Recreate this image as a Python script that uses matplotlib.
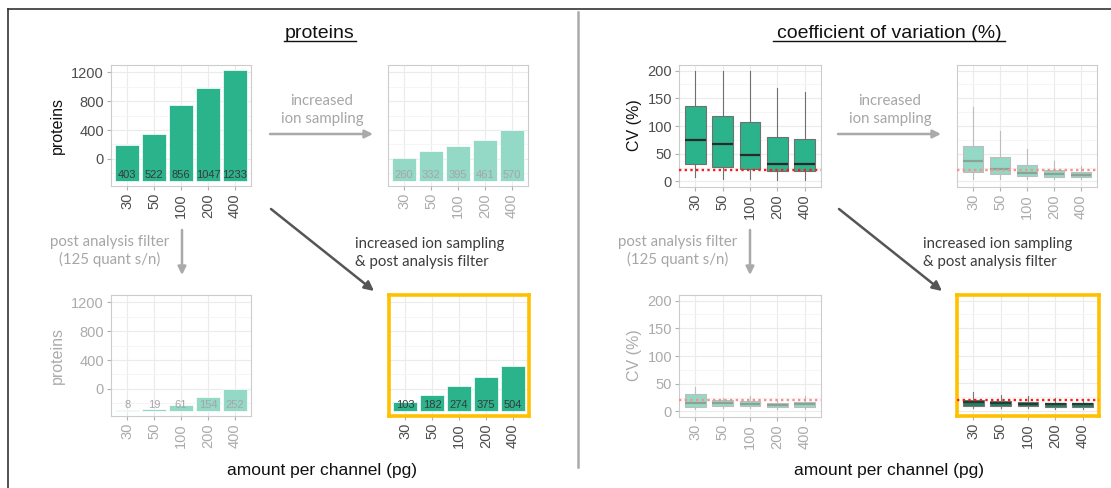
import matplotlib
matplotlib.use("Agg")
import matplotlib.pyplot as plt
from matplotlib.ticker import MultipleLocator

W, H = 1111, 488

# ---- data ----
cats = ["30", "50", "100", "200", "400"]

# protein counts (printed in the bars) and where each bar top sits on the axis
prot_all = [403, 522, 856, 1047, 1233]
prot_all_top = [195, 340, 750, 985, 1225]
prot_ion = [260, 332, 395, 461, 570]
prot_ion_top = [15, 105, 185, 265, 400]
prot_filt = [8, 19, 61, 154, 252]
prot_filt_top = [-295, -281, -229, -114, 5]
prot_both = [103, 182, 274, 375, 504]
prot_both_top = [-177, -79, 35, 160, 320]
bar_base = -305

# CV boxplots: whisker low, q1, median, q3, whisker high
cv_all_lo = [8, 5, 5, 3, 3]
cv_all_q1 = [31, 26, 22, 18, 18]
cv_all_med = [74, 67, 47, 32, 31]
cv_all_q3 = [136, 118, 107, 80, 76]
cv_all_hi = [200, 200, 200, 168, 162]

cv_ion_lo = [5, 4, 4, 4, 4]
cv_ion_q1 = [17, 13, 10, 8, 8]
cv_ion_med = [36, 22, 16, 13, 11]
cv_ion_q3 = [64, 44, 29, 20, 17]
cv_ion_hi = [134, 91, 58, 37, 28]

cv_filt_lo = [4, 7, 6, 5, 5]
cv_filt_q1 = [8, 10, 10, 8, 8]
cv_filt_med = [15, 15, 14, 12, 13]
cv_filt_q3 = [31, 20, 19, 16, 17]
cv_filt_hi = [45, 24, 27, 23, 28]

cv_both_lo = [5, 5, 4, 3, 3]
cv_both_q1 = [9, 8, 8, 7, 7]
cv_both_med = [15, 14, 12, 11, 11]
cv_both_q3 = [20, 17, 16, 14, 14]
cv_both_hi = [34, 29, 26, 22, 21]

cv_cutoff = 20

GREEN = "#2bb38b"
LIGHT = "#93d9c5"
DARKBOX = "#2a7d62"
ORANGE = "#ffc000"
DARKTXT = "#4d4d4d"
GREYTXT = "#ababab"

fig = plt.figure(figsize=(W / 100, H / 100), dpi=100)

ov = fig.add_axes([0, 0, 1, 1])
ov.set_xlim(0, W)
ov.set_ylim(H, 0)
ov.axis("off")


def px_axes(l, t, r, b):
    return fig.add_axes([l / W, 1 - b / H, (r - l) / W, (b - t) / H])


def style(ax, xcol, ycol, showy, highlight=False):
    ax.set_xlim(-0.6, 4.6)
    ax.set_xticks(range(5))
    ax.set_xticklabels(cats, rotation=90, color=xcol, fontsize=10.5,
                       family="Liberation Sans")
    ax.tick_params(axis="both", length=3, color="#b0b0b0", pad=2)
    ax.grid(True, which="major", color="#ebebeb", lw=0.8)
    ax.grid(True, which="minor", axis="y", color="#f4f4f4", lw=0.6)
    ax.tick_params(axis="y", which="minor", length=0)
    ax.set_axisbelow(True)
    if showy:
        for lab in ax.get_yticklabels():
            lab.set_color(ycol)
            lab.set_fontsize(10.5)
            lab.set_family("Liberation Sans")
    else:
        ax.tick_params(axis="y", which="both", length=0, labelleft=False)
    for s in ax.spines.values():
        if highlight:
            s.set_color(ORANGE)
            s.set_linewidth(2.6)
        else:
            s.set_color("#cccccc")
            s.set_linewidth(0.8)


def bar_panel(box, tops, counts, color, txtcol, xcol, ycol, showy, highlight=False):
    ax = px_axes(*box)
    heights = [t - bar_base for t in tops]
    ax.bar(range(5), heights, bottom=bar_base, width=0.9, color=color,
           edgecolor="white", linewidth=0.5, zorder=2)
    for i, c in enumerate(counts):
        ax.text(i, -222, str(c), ha="center", va="center", fontsize=8,
                color=txtcol, family="Liberation Sans", zorder=3)
    ax.set_ylim(-375, 1300)
    ax.yaxis.set_major_locator(MultipleLocator(400))
    ax.yaxis.set_minor_locator(MultipleLocator(200))
    style(ax, xcol, ycol, showy, highlight)
    return ax


def box_panel(box, lo, q1, med, q3, hi, face, edge, medcol, linecol, xcol, ycol,
              showy, highlight=False):
    ax = px_axes(*box)
    stats = [dict(whislo=lo[i], q1=q1[i], med=med[i], q3=q3[i], whishi=hi[i],
                  fliers=[]) for i in range(5)]
    ax.bxp(stats, positions=range(5), widths=0.75, patch_artist=True,
           showcaps=False, showfliers=False,
           boxprops=dict(facecolor=face, edgecolor=edge, lw=0.8),
           medianprops=dict(color=medcol, lw=1.6),
           whiskerprops=dict(color=edge, lw=0.8), zorder=2)
    ax.axhline(cv_cutoff, color=linecol, ls=(0, (1.0, 1.4)), lw=1.7, zorder=3)
    ax.set_ylim(-10, 210)
    ax.yaxis.set_major_locator(MultipleLocator(50))
    ax.yaxis.set_minor_locator(MultipleLocator(25))
    style(ax, xcol, ycol, showy, highlight)
    return ax


# proteins
bar_panel((111, 65, 251, 186), prot_all_top, prot_all, GREEN, "#3a3a3a",
          DARKTXT, DARKTXT, True)
bar_panel((388, 65, 528, 186), prot_ion_top, prot_ion, LIGHT, "#a8a3ad",
          GREYTXT, GREYTXT, False)
bar_panel((111, 295, 251, 416), prot_filt_top, prot_filt, LIGHT, "#a8a3ad",
          GREYTXT, GREYTXT, True)
bar_panel((389, 295, 529, 416), prot_both_top, prot_both, GREEN, "#3a3a3a",
          DARKTXT, DARKTXT, False, highlight=True)

# coefficient of variation
box_panel((679, 65, 821, 187), cv_all_lo, cv_all_q1, cv_all_med, cv_all_q3,
          cv_all_hi, GREEN, "#707070", "#2a2a2a", "#ff1a1a", DARKTXT, DARKTXT, True)
box_panel((957, 65, 1097, 187), cv_ion_lo, cv_ion_q1, cv_ion_med, cv_ion_q3,
          cv_ion_hi, LIGHT, "#bdbdbd", "#8aa397", "#ff8c8c", GREYTXT, GREYTXT, False)
box_panel((679, 295, 821, 417), cv_filt_lo, cv_filt_q1, cv_filt_med, cv_filt_q3,
          cv_filt_hi, LIGHT, "#bdbdbd", "#8aa397", "#ff8c8c", GREYTXT, GREYTXT, True)
box_panel((957, 295, 1099, 416), cv_both_lo, cv_both_q1, cv_both_med, cv_both_q3,
          cv_both_hi, DARKBOX, "#777777", "#1e3f33", "#ff1a1a", DARKTXT, DARKTXT,
          False, highlight=True)

# frame and divider
ov.plot([8, W], [9, 9], color="#333333", lw=1.2)
ov.plot([8, 8], [9, H], color="#333333", lw=1.2)
ov.plot([578, 578], [12, 467], color="#aaaaaa", lw=1.8)

# titles, underlined
for cx, half, txt in [(320, 36, "proteins"), (889, 116, "coefficient of variation (%)")]:
    ov.text(cx, 38, txt, ha="center", va="baseline", fontsize=14,
            family="Liberation Sans", color="#111111")
    ov.plot([cx - half, cx + half], [41, 41], color="#111111", lw=1)

# axis titles
ov.text(57, 125, "proteins", rotation=90, ha="center", va="center",
        fontsize=11.5, family="Liberation Sans", color="#111111")
ov.text(57, 355, "proteins", rotation=90, ha="center", va="center",
        fontsize=11.5, family="Liberation Sans", color=GREYTXT)
ov.text(635, 125, "CV (%)", rotation=90, ha="center", va="center",
        fontsize=11.5, family="Liberation Sans", color="#111111")
ov.text(635, 355, "CV (%)", rotation=90, ha="center", va="center",
        fontsize=11.5, family="Liberation Sans", color=GREYTXT)
for cx in (322, 889):
    ov.text(cx, 470, "amount per channel (pg)", ha="center", va="center",
            fontsize=12.5, family="Liberation Sans", color="#111111")

# annotations and arrows
for dx in (0, 568):
    ov.text(322 + dx, 110, "increased\nion sampling", ha="center", va="center",
            fontsize=10.8, family="Lato", color="#a6a6a6", linespacing=1.3)
    ov.annotate("", xy=(373 + dx, 134), xytext=(270 + dx, 134),
                arrowprops=dict(arrowstyle="-|>", color="#aaaaaa", lw=1.8,
                                mutation_scale=12, shrinkA=0, shrinkB=0))
    ov.text(110 + dx, 251, "post analysis filter\n(125 quant s/n)", ha="center",
            va="center", fontsize=10.8, family="Lato", color="#a6a6a6",
            linespacing=1.3)
    ov.annotate("", xy=(182 + dx, 275), xytext=(182 + dx, 230),
                arrowprops=dict(arrowstyle="-|>", color="#aaaaaa", lw=1.8,
                                mutation_scale=12, shrinkA=0, shrinkB=0))
    ov.annotate("", xy=(374 + dx, 291), xytext=(271 + dx, 209),
                arrowprops=dict(arrowstyle="-|>", color="#555555", lw=1.8,
                                mutation_scale=14, shrinkA=0, shrinkB=0))
    ov.text(355 + dx, 253, "increased ion sampling\n& post analysis filter",
            ha="left", va="center", fontsize=10.8, family="Lato", color="#3d3d3d",
            linespacing=1.3)

fig.savefig("out.png", dpi=100)
